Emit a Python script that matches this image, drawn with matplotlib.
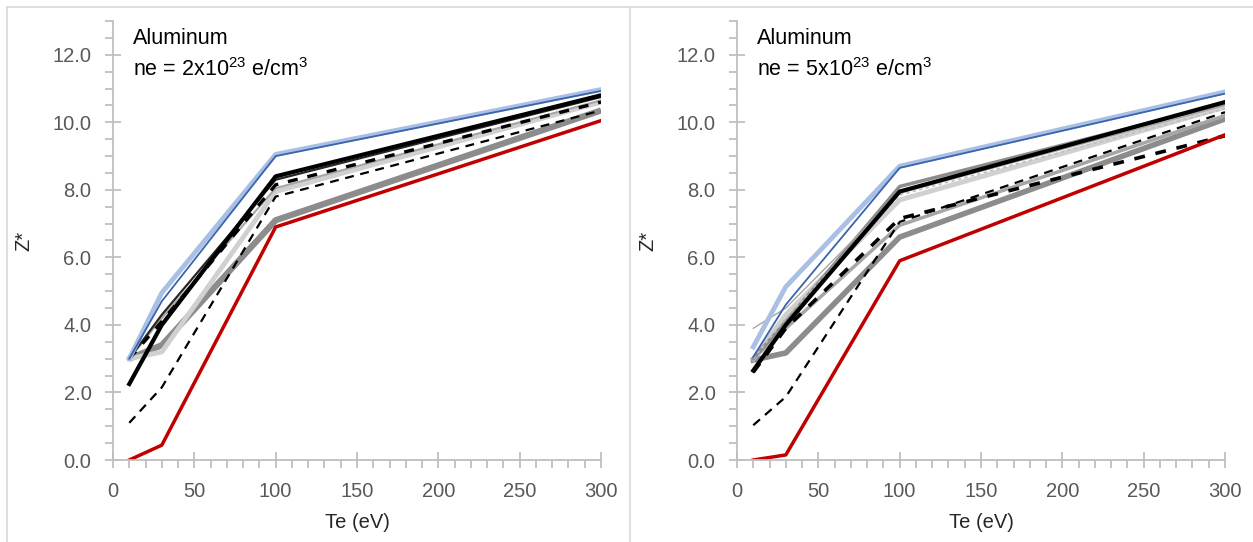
import matplotlib.pyplot as plt
from matplotlib.ticker import MultipleLocator, FormatStrFormatter
from matplotlib.lines import Line2D

plt.rcParams['font.family'] = ['Liberation Sans', 'DejaVu Sans']

te = [10, 30, 100, 300]

# ne = 2e23 e/cm3
left_lightblue = [3.0, 4.95, 9.05, 10.97]
left_blue      = [3.0, 4.70, 9.00, 10.93]
left_black_thk = [2.25, 4.0, 8.40, 10.80]
left_black     = [3.0, 4.30, 8.30, 10.75]
left_ltgray    = [3.0, 3.20, 7.95, 10.60]
left_midgray   = [3.0, 4.20, 8.05, 10.65]
left_dash_thk  = [3.0, 4.10, 8.15, 10.60]
left_dash      = [1.1, 2.15, 7.80, 10.35]
left_gray_thk  = [3.0, 3.40, 7.10, 10.35]
left_red       = [0.0, 0.44, 6.90, 10.05]

# ne = 5e23 e/cm3
right_lightblue = [3.35, 5.13, 8.70, 10.90]
right_blue      = [3.05, 4.60, 8.65, 10.85]
right_thingray  = [3.90, 4.50, 7.90, 10.50]
right_black_thk = [2.65, 4.00, 7.95, 10.60]
right_midgray   = [3.00, 4.10, 8.10, 10.55]
right_ltgray    = [3.00, 4.30, 7.70, 10.45]
right_ltdash    = [3.00, 4.20, 7.85, 10.40]
right_dash_thk  = [2.60, 3.90, 7.15, 9.60]
right_dash      = [1.03, 1.87, 7.05, 10.30]
right_gray2     = [3.00, 3.90, 6.95, 10.20]
right_gray_thk  = [2.96, 3.17, 6.60, 10.10]
right_red       = [0.00, 0.15, 5.90, 9.63]

RED = '#C00000'
LBLUE = '#A9C0E4'
DBLUE = '#3B64AD'
AX = '#BFBFBF'
TXT = '#595959'

fig = plt.figure(figsize=(12.53, 5.42), dpi=100)

# chart borders
fig.add_artist(Line2D([7/1253, 1], [1 - 7/542] * 2, color='#D9D9D9', lw=1.2))
fig.add_artist(Line2D([7/1253] * 2, [0, 1 - 7/542], color='#D9D9D9', lw=1.2))
fig.add_artist(Line2D([630/1253] * 2, [0, 1 - 7/542], color='#D9D9D9', lw=1.2))

ax1 = fig.add_axes([113/1253, 82/542, 488/1253, 439/542])
ax2 = fig.add_axes([737/1253, 82/542, 488/1253, 439/542])

ax1.plot(te, left_gray_thk, color='#8C8C8C', lw=4.5, solid_capstyle='butt')
ax1.plot(te, left_ltgray, color='#D0D0D0', lw=3.5)
ax1.plot(te, left_midgray, color='#A6A6A6', lw=1.5)
ax1.plot(te, left_dash, color='black', lw=1.6, ls=(0, (4, 3)))
ax1.plot(te, left_black, color='#262626', lw=1.6)
ax1.plot(te, left_black_thk, color='black', lw=3)
ax1.plot(te, left_dash_thk, color='black', lw=2.4, ls=(0, (3, 3)))
ax1.plot(te, left_lightblue, color=LBLUE, lw=3.5)
ax1.plot(te, left_blue, color=DBLUE, lw=1.3)
ax1.plot(te, left_red, color=RED, lw=2.5)

ax2.plot(te, right_gray_thk, color='#8C8C8C', lw=4)
ax2.plot(te, right_gray2, color='#A6A6A6', lw=2.5)
ax2.plot(te, right_ltgray, color='#D0D0D0', lw=3.5)
ax2.plot(te, right_midgray, color='#8C8C8C', lw=2.5)
ax2.plot(te, right_ltdash, color='#BFBFBF', lw=1.2, ls=(0, (2, 2)))
ax2.plot(te, right_thingray, color='#A6A6A6', lw=1.0)
ax2.plot(te, right_dash, color='black', lw=1.6, ls=(0, (4, 3)))
ax2.plot(te, right_black_thk, color='black', lw=3)
ax2.plot(te, right_dash_thk, color='black', lw=2.6, ls=(0, (3, 3)))
ax2.plot(te, right_lightblue, color=LBLUE, lw=3.5)
ax2.plot(te, right_blue, color=DBLUE, lw=1.3)
ax2.plot(te, right_red, color=RED, lw=2.5)

for ax, ne in ((ax1, '2'), (ax2, '5')):
    ax.set_xlim(0, 300)
    ax.set_ylim(0, 13)
    ax.xaxis.set_major_locator(MultipleLocator(50))
    ax.xaxis.set_minor_locator(MultipleLocator(10))
    ax.yaxis.set_minor_locator(MultipleLocator(0.5))
    ax.yaxis.set_major_formatter(FormatStrFormatter('%.1f'))
    ax.set_yticks([0, 2, 4, 6, 8, 10, 12])
    for s in ('top', 'right'):
        ax.spines[s].set_visible(False)
    for s in ('left', 'bottom'):
        ax.spines[s].set_color(AX)
        ax.spines[s].set_linewidth(1.3)
    ax.tick_params(which='major', direction='inout', length=11, width=1.3,
                   color=AX, labelcolor=TXT, labelsize=14.5, pad=10)
    ax.tick_params(which='minor', direction='out', length=6, width=1.3, color=AX)
    ax.set_xlabel('Te (eV)', fontsize=14.5, color='#262626', labelpad=9)
    ax.set_ylabel('Z*', fontsize=14.5, color='#262626', labelpad=14)
    ax.text(12, 12.8, 'Aluminum', fontsize=15.5, va='top', ha='left', color='black')
    ax.text(12, 11.9, 'ne = ' + ne + r'x10$^{\mathregular{23}}$ e/cm$^{\mathregular{3}}$',
            fontsize=15.5, va='top', ha='left', color='black')

fig.savefig('out.png', dpi=100)
